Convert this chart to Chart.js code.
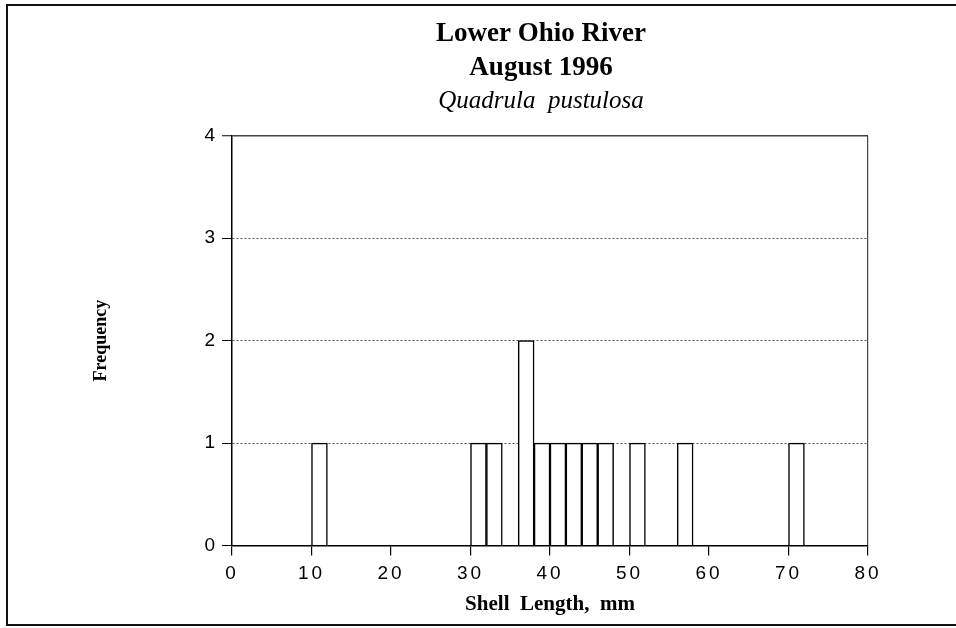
<!DOCTYPE html>
<html>
<head>
<meta charset="utf-8">
<script src="https://cdn.jsdelivr.net/npm/chart.js@4/dist/chart.umd.min.js"></script>
<style>
  html, body { margin: 0; padding: 0; background: #fff; overflow: hidden; }
  #frame {
    position: absolute; left: 6px; top: 4px; width: 1000px; height: 618px;
    border-top: 2px solid #111; border-left: 2px solid #111; border-bottom: 2px solid #111;
  }
  #wrap { position: absolute; left: 0; top: 0; width: 956px; height: 628px; }
</style>
</head>
<body>
<div id="frame"></div>
<div id="wrap"><canvas id="chart" width="956" height="628"></canvas></div>
<script>
// shell length bins (mm, lower edge) and number of mussels in each
const BIN_WIDTH = 2;
const binStarts = [10, 30, 32, 36, 38, 40, 42, 44, 46, 50, 56, 70];
const counts    = [ 1,  1,  1,  2,  1,  1,  1,  1,  1,  1,  1,  1];

const titleLines = ['Lower Ohio River', 'August 1996'];
const speciesName = 'Quadrula  pustulosa';
const xTitle = 'Shell  Length,  mm';
const yTitle = 'Frequency';

const xTicks = { min: 0, max: 80, step: 10 };
const yTicks = { min: 0, max: 4, step: 1 };

const SERIF = "'Liberation Serif', 'Times New Roman', serif";

Chart.defaults.color = '#000';
Chart.defaults.font.family = "'Liberation Sans', Arial, sans-serif";

// spaced-out tick digits (tick labels are drawn after the bars, z: 1)
const spacedTicks = {
  id: 'spacedTicks',
  beforeDraw(chart) { chart.ctx.letterSpacing = '0px'; },
  afterDatasetsDraw(chart) { chart.ctx.letterSpacing = '3px'; },
  afterDraw(chart) { chart.ctx.letterSpacing = '0px'; }
};

new Chart(document.getElementById('chart'), {
  type: 'bar',
  data: {
    datasets: [{
      data: binStarts.map((s, i) => ({ x: s + BIN_WIDTH / 2, y: counts[i] })),
      backgroundColor: '#fff',
      borderColor: '#000',
      borderWidth: 1.5,
      barPercentage: 1,
      categoryPercentage: 1
    }]
  },
  options: {
    responsive: false,
    animation: false,
    events: [],
    layout: { padding: { left: 190, right: 64, top: 0, bottom: 0 } },
    plugins: {
      legend: { display: false },
      tooltip: { enabled: false },
      title: {
        display: true,
        text: titleLines,
        color: '#000',
        font: { family: SERIF, size: 27, weight: 'bold', lineHeight: 1.27 },
        padding: { top: 17, bottom: 0 }
      },
      subtitle: {
        display: true,
        text: speciesName,
        color: '#000',
        font: { family: SERIF, size: 25, style: 'italic', lineHeight: 1.25 },
        padding: { top: 0, bottom: 19 }
      }
    },
    scales: {
      x: {
        type: 'linear',
        offset: false,
        min: xTicks.min,
        max: xTicks.max,
        afterFit(scale) { scale.height = 82.5; },
        ticks: {
          stepSize: xTicks.step,
          padding: 7,
          z: 1,
          maxRotation: 0,
          font: { size: 19 }
        },
        grid: {
          offset: false,
          tickLength: 10,
          tickColor: '#000',
          tickWidth: 1.2,
          lineWidth: 1.2,
          color: c => (c.tick && c.tick.value === xTicks.max) ? '#444' : 'rgba(0,0,0,0)'
        },
        border: { color: '#000', width: 1.5 },
        title: {
          display: true,
          text: xTitle,
          font: { family: SERIF, size: 21, weight: 'bold' },
          padding: { top: 0, bottom: 11 }
        }
      },
      y: {
        min: yTicks.min,
        max: yTicks.max,
        afterFit(scale) { scale.width = 42; },
        ticks: {
          stepSize: yTicks.step,
          padding: 4,
          z: 1,
          font: { size: 19 }
        },
        grid: {
          tickLength: 10,
          tickColor: '#000',
          tickWidth: 1,
          lineWidth: c => (c.tick && c.tick.value === yTicks.max) ? 1.5 : 1,
          color: c => (c.tick && c.tick.value === yTicks.max) ? '#444' : '#555'
        },
        border: {
          color: '#000',
          width: 1.5,
          dash: c => (c.tick && c.tick.value > yTicks.min && c.tick.value < yTicks.max) ? [2, 2] : []
        },
        title: {
          display: true,
          text: yTitle,
          font: { family: SERIF, size: 18, weight: 'bold' },
          padding: { top: -99, bottom: 0 }
        }
      },
      // empty strip on the right so the titles sit where they do in the original
      spacer: {
        type: 'linear',
        position: 'right',
        display: true,
        afterFit(scale) { scale.width = 24; },
        ticks: { display: false },
        grid: { display: false },
        border: { display: false }
      }
    }
  },
  plugins: [spacedTicks]
});
</script>
</body>
</html>
